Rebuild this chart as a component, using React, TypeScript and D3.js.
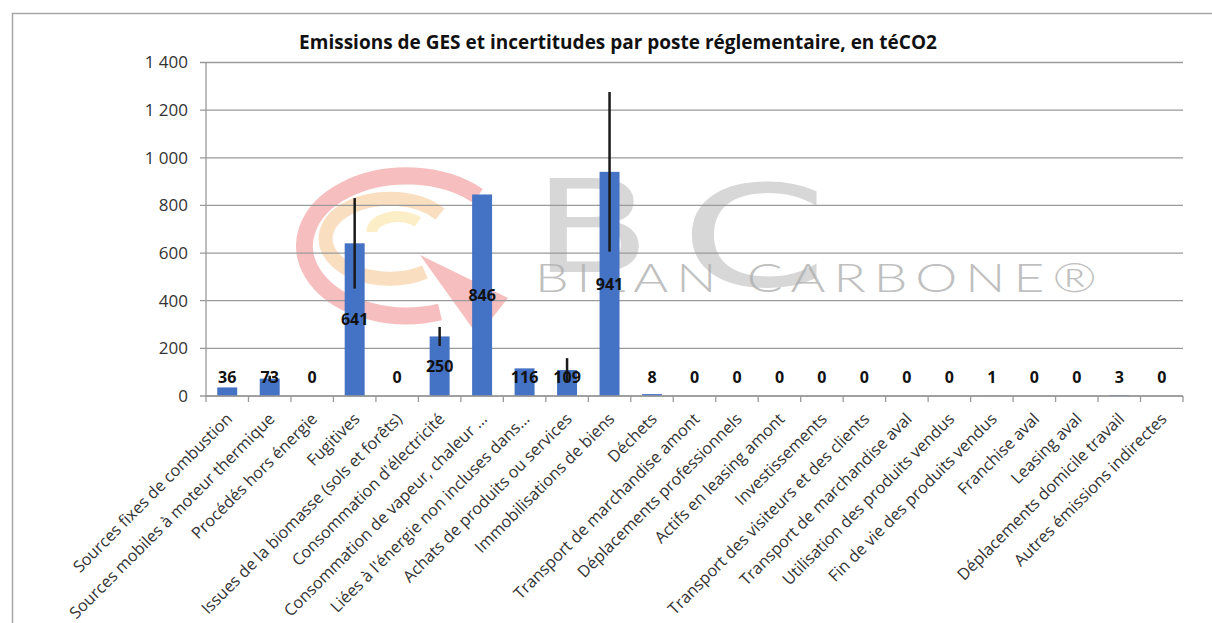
import React from 'react';
import * as d3 from 'd3';

// postes réglementaires (ordre du tableau)
const categories: string[] = [
  'Sources fixes de combustion',
  'Sources mobiles à moteur thermique',
  'Procédés hors énergie',
  'Fugitives',
  'Issues de la biomasse (sols et forêts)',
  "Consommation d'électricité",
  'Consommation de vapeur, chaleur ...',
  "Liées à l'énergie non incluses dans...",
  'Achats de produits ou services',
  'Immobilisations de biens',
  'Déchets',
  'Transport de marchandise amont',
  'Déplacements professionnels',
  'Actifs en leasing amont',
  'Investissements',
  'Transport des visiteurs et des clients',
  'Transport de marchandise aval',
  'Utilisation des produits vendus',
  'Fin de vie des produits vendus',
  'Franchise aval',
  'Leasing aval',
  'Déplacements domicile travail',
  'Autres émissions indirectes',
];

const emissions: number[] = [36, 73, 0, 641, 0, 250, 846, 116, 109, 941, 8, 0, 0, 0, 0, 0, 0, 0, 1, 0, 0, 3, 0];
const incertitudes: number[] = [0, 12, 0, 190, 0, 40, 0, 0, 50, 335, 0, 0, 0, 0, 0, 0, 0, 0, 0, 0, 0, 0, 0];

const yTicks: number[] = [0, 200, 400, 600, 800, 1000, 1200, 1400];
const title = 'Emissions de GES et incertitudes par poste réglementaire, en téCO2';

const W = 1212;
const H = 623;
const FONT = '"Open Sans", Lato, sans-serif';

const fr = d3.formatLocale({ decimal: ',', thousands: ' ', grouping: [3], currency: ['', ' €'] });
const fmt = fr.format(',d');

export default function App() {
  const x = d3.scaleBand<string>().domain(categories).range([206, 1183]).padding(0);
  const y = d3.scaleLinear().domain([0, 1400]).range([396, 62.5]);
  const barW = x.bandwidth() * 0.47;
  const cx = (c: string) => (x(c) as number) + x.bandwidth() / 2;
  const y0 = y(0);

  return (
    <svg width={W} height={H} style={{ position: 'absolute', left: 0, top: 0, background: '#fff' }}>
      {/* cadre */}
      <path d={`M12.5,${H} V13.5 H${W}`} fill="none" stroke="#a6a6a6" strokeWidth={1.5} />

      {/* filigrane Bilan Carbone */}
      <g opacity={0.55}>
        <path d="M478,196 A102,70 0 1,0 440,312" fill="none" stroke="#f08a8a" strokeWidth={17} />
        <path d="M440,214 A64,40 0 1,0 425,272" fill="none" stroke="#f7c48e" strokeWidth={14} />
        <path d="M372,232 A26,15 0 0,1 418,222" fill="none" stroke="#fbe39a" strokeWidth={11} />
        <path d="M420,255 L508,298 L478,336 Z" fill="#f08a8a" />
      </g>
      <g opacity={0.45} fill="#a8a8a8" fontFamily='"DejaVu Sans", sans-serif'>
        <text x={533} y={272} fontSize={128} textLength={118} lengthAdjust="spacingAndGlyphs">B</text>
        <text x={680} y={286} fontSize={140} textLength={148} lengthAdjust="spacingAndGlyphs">C</text>
      </g>
      <text x={535} y={292} fontFamily="Lato, sans-serif" fontWeight={300} fontSize={40} fill="#b0b0b0" opacity={0.8} letterSpacing={6} textLength={570} lengthAdjust="spacingAndGlyphs">BILAN CARBONE®</text>

      {/* titre */}
      <text x={618} y={49} textAnchor="middle" fontFamily={FONT} fontWeight={700} fontSize={19} fill="#111">{title}</text>

      {/* grille + axe Y */}
      {yTicks.map(t => (
        <g key={t}>
          <line x1={200} x2={1183} y1={y(t)} y2={y(t)} stroke="#9a9a9a" strokeWidth={1.3} />
          <text x={188} y={y(t)} dy="0.35em" textAnchor="end" fontFamily={FONT} fontSize={17} fill="#333">{fmt(t)}</text>
        </g>
      ))}
      <line x1={206} x2={206} y1={y(1400)} y2={y0} stroke="#9a9a9a" strokeWidth={1.3} />

      {/* barres */}
      {categories.map((c, i) => (
        <rect key={c} x={cx(c) - barW / 2} y={y(emissions[i])} width={barW} height={y0 - y(emissions[i])} fill="#4472c4" />
      ))}

      {/* incertitudes */}
      {categories.map((c, i) => incertitudes[i] > 0 ? (
        <line key={c} x1={cx(c)} x2={cx(c)} y1={y(emissions[i] + incertitudes[i])} y2={y(emissions[i] - incertitudes[i])} stroke="#1a1a1a" strokeWidth={2.5} />
      ) : null)}

      {/* axe X */}
      <line x1={206} x2={1183} y1={y0} y2={y0} stroke="#9a9a9a" strokeWidth={1.3} />
      {[...categories.map(c => x(c) as number), 1183].map((t, i) => (
        <line key={i} x1={t} x2={t} y1={y0} y2={y0 + 6} stroke="#9a9a9a" strokeWidth={1.3} />
      ))}

      {/* étiquettes de données */}
      {categories.map((c, i) => (
        <text key={c} x={cx(c)} y={Math.min(y(emissions[i] / 2), 377)} dy="0.35em" textAnchor="middle" fontFamily={FONT} fontWeight={700} fontSize={16} fill="#111">{emissions[i]}</text>
      ))}

      {/* libellés catégories */}
      {categories.map(c => (
        <text key={c} transform={`translate(${cx(c) + 2},${y0 + 20}) rotate(-45)`} textAnchor="end" dy="0.35em" fontFamily={FONT} fontSize={16.3} fill="#333">{c}</text>
      ))}
    </svg>
  );
}
